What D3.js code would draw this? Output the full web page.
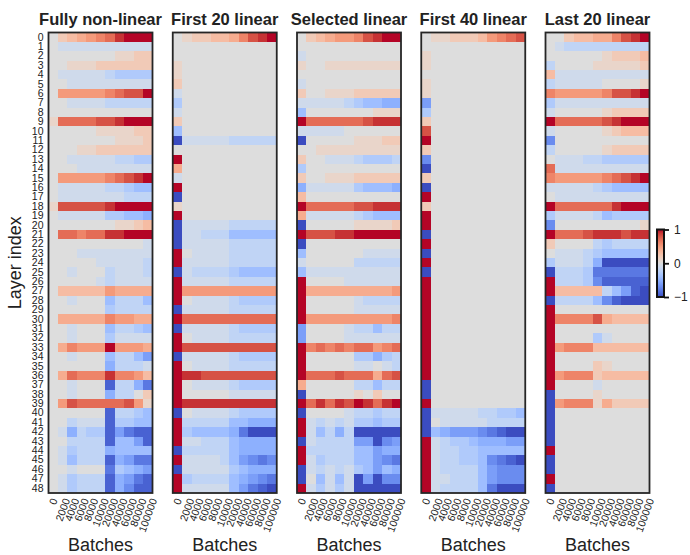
<!DOCTYPE html>
<html>
<head>
<meta charset="utf-8">
<script src="https://cdn.jsdelivr.net/npm/d3@7"></script>
<style>
  body { margin: 0; background: #fff; }
  text { font-family: "Liberation Sans", Arial, sans-serif; fill: #222; }
</style>
</head>
<body>
<div id="chart"></div>
<script>
const titles = ["Fully non-linear", "First 20 linear", "Selected linear", "First 40 linear", "Last 20 linear"];
const batches = ["0", "2000", "4000", "6000", "8000", "10000", "20000", "40000", "60000", "80000", "100000"];
const layers = d3.range(49);

// one string per layer, one char per batch column
// t = -1, i..a = -0.9..-0.1, 0 = 0, 1..9 = 0.1..0.9, T = 1
const fullyNonLinear = [
  "02345679TTT", "0aaaaaaaaaa", "00000001122", "00111222222", "0aaaaabcccc",
  "00aaaaaaaaa", "0555556788T", "00aaaabbbbb", "00000000000", "17777889TTT",
  "00000111122", "00000001112", "00011222222", "00aaaaabbcc", "000aaaaaaaa",
  "0555556789T", "0aaaaabbcdd", "0aaaaaaabbb", "1888889TTTT", "0aaaaaccdde",
  "00000001123", "07767799TTT", "0000000000a", "000aaaaaaaa", "00000aaaaab",
  "00a000baaab", "00000abaaaa", "03333354444", "00a000dbbbd", "000000cbbbb",
  "04444465544", "00a000dbbcd", "00a000caaaa", "046555T5554", "00a000dbbdf",
  "000000ebbba", "04766696653", "00a000ibbeh", "00a000ebb02", "05877777851",
  "000000ibbcd", "00baaaiccdd", "0aebccifhii", "00bbbbiddfi", "0acbbbedddd",
  "0adbbbiefhh", "00a000hcdef", "0acbbbiefhi", "0acbbbiegii"
];
const first20Linear = [
  "0122334689T", "00000000000", "00000000000", "10000000000", "10000000000",
  "20000000000", "a0000000000", "c0000000000", "a0000000000", "20000000000",
  "d0000000000", "taaaaabbbbb", "00000000000", "T0000000000", "40000000000",
  "a0000000000", "T0000000000", "t0000000000", "10000000000", "T0000000000",
  "taaaaabbbbb", "taabbbddddd", "taaaaabbbbb", "T0aaaabbbbb", "Taaaaabbbbb",
  "tabbbbcdddd", "Taaaaabbbbb", "T5555555555", "T0aaaabcccc", "taaaaabbbbb",
  "T7777777777", "taaaaabcccc", "T0aaaabbbbb", "T8888888888", "taaaaabcccc",
  "T0aaaabbbbb", "T9988888888", "T0aaaabcccc", "T00000aaaaa", "T9999999999",
  "t0aaaabcccc", "Tbbbbbddeee", "Tcddddehttt", "Taabbbdeeee", "tbbbbbdeeee",
  "Taaaabdfghg", "taaaaacdeee", "Tcbbbbdefgh", "Taaaaadfhit"
];
const selectedLinear = [
  "023455689TT", "00000000000", "a0000000000", "10011111111", "00000000000",
  "a0000000000", "20011122222", "aaaaabcddee", "d0000000111", "T7777778999",
  "aaaaa000000", "t0000011122", "00111111111", "200aaabcccb", "c0000000000",
  "20011122222", "eaaaaacddde", "30000000000", "T7777788999", "4aaaaabcddd",
  "t0000011112", "T88899TTTTT", "t0000000000", "d000000aaaa", "a00000bbbbb",
  "daaaaaaaaaa", "T0000aaaaaa", "T4444444445", "T00000abbbb", "T00000aaaaa",
  "T5555555556", "f0000abbdbb", "f0000aaaaaa", "T6767677567", "T00000ccecb",
  "T00000aa0ab", "T7778777478", "400000bbdbb", "t0000010200", "T79798T979T",
  "t0000abbcbb", "Tababaccdcc", "Tadbebttttt", "tabbbbfftgf", "Tbbbbbddfee",
  "Tacbbbddfgh", "tababacdfde", "t0dadatftgg", "Tacacattttt"
];
const first40Linear = [
  "01122235678", "00000000000", "10000000000", "10000000000", "00000000000",
  "10000000000", "10000000000", "f0000000000", "c0000000000", "20000000000",
  "80000000000", "T0000000000", "20000000000", "g0000000000", "t0000000000",
  "20000000000", "t0000000000", "T0000000000", "20000000000", "T0000000000",
  "T0000000000", "t0000000000", "T0000000000", "t0000000000", "T0000000000",
  "t0000000000", "T0000000000", "T0000000000", "T0000000000", "T0000000000",
  "T0000000000", "T0000000000", "T0000000000", "T0000000000", "T0000000000",
  "T0000000000", "T0000000000", "t0000000000", "t0000000000", "T0000000000",
  "taaaaabbccd", "t0aaaaabbbb", "tdefffghitt", "Tabccdeeeff", "Tabbccddddd",
  "Tabbccdghit", "Tabbbbdfggg", "Taabbbdfggg", "Tabbbbdhttt"
];
const last20Linear = [
  "0023344689T", "0abbbbbbbbb", "00000012223", "b0000111112", "3aaaaaaaaaa",
  "baaaaa00001", "6555556889T", "caaaaaaaaaa", "a0000012222", "T7777789TTT",
  "a0000012333", "g0000000000", "b0000012222", "0aaabbccccc", "7aaaaaaaaaa",
  "6555556789T", "aaaaabcdddd", "0aaaaaaaaaa", "T7777779TTT", "caaaabdcccc",
  "g0000000001", "T7778999899", "20000bcbbbb", "0aaabcddddd", "caaabettttt",
  "tbbbchhhhhh", "Tbbbcgiiiii", "T33333bdfit", "tbbbbdgittt", "T0000000000",
  "T6666843333", "T0000000000", "T0000ca0000", "T5666333333", "T0000000000",
  "T0000210000", "T5666233333", "T0000a00000", "t0000100000", "t5666142222",
  "t0000000000", "t0000000000", "t0000000000", "t0000000000", "T0000000000",
  "t0000000000", "t0000000000", "T0000000000", "t0000000000"
];
const panels = [fullyNonLinear, first20Linear, selectedLinear, first40Linear, last20Linear];

const codeValue = c => {
  if (c === "T") return 1;
  if (c === "t") return -1;
  if (c >= "0" && c <= "9") return +c / 10;
  return -("abcdefghi".indexOf(c) + 1) / 10;
};

// matplotlib coolwarm
const coolwarm = ["#3b4cc0", "#4d68d7", "#6282ea", "#779af7", "#8db0fe", "#a3c2ff", "#b8d0f9", "#ccd9ee",
  "#dddddd", "#ecd3c5", "#f5c4ad", "#f7b194", "#f49a7b", "#ec7f63", "#de604d", "#cb3e38", "#b40426"];
const color = d3.scaleLinear()
  .domain(d3.range(17).map(i => -1 + i * 0.125))
  .range(coolwarm)
  .clamp(true);

const width = 690;
const height = 555;
const plot = { left: 48.5, right: 649.5, top: 32.5, bottom: 493 };

const svg = d3.select("#chart")
  .append("svg")
  .attr("width", width)
  .attr("height", height);

const panelX = d3.scaleBand().domain(titles).range([plot.left, plot.right]).paddingInner(0.163);
const y = d3.scaleBand().domain(layers).range([plot.top, plot.bottom]);
const x = d3.scaleBand().domain(batches).range([0, panelX.bandwidth()]);

panels.forEach((rows, p) => {
  const g = svg.append("g")
    .attr("transform", `translate(${panelX(titles[p])}, 0)`);

  const cells = [];
  rows.forEach((row, r) => {
    row.split("").forEach((c, k) => cells.push({ layer: layers[r], batch: batches[k], value: codeValue(c) }));
  });

  g.selectAll("rect.cell")
    .data(cells)
    .enter().append("rect")
    .attr("class", "cell")
    .attr("x", d => x(d.batch))
    .attr("y", d => y(d.layer))
    .attr("width", x.bandwidth())
    .attr("height", y.bandwidth())
    .attr("fill", d => color(d.value))
    .attr("shape-rendering", "crispEdges");

  g.append("rect")
    .attr("x", 0)
    .attr("y", plot.top)
    .attr("width", panelX.bandwidth())
    .attr("height", plot.bottom - plot.top)
    .attr("fill", "none")
    .attr("stroke", "#262626")
    .attr("stroke-width", 1.8);

  g.append("text")
    .attr("x", panelX.bandwidth() / 2)
    .attr("y", 25)
    .attr("text-anchor", "middle")
    .attr("font-size", "16.5px")
    .attr("font-weight", "bold")
    .text(titles[p]);

  // rotated batch labels, box centred under each column
  batches.forEach(b => {
    const t = g.append("text")
      .attr("font-size", "10.5px")
      .attr("text-anchor", "middle")
      .attr("dy", "0.35em")
      .text(b);
    const len = t.node().getComputedTextLength();
    const boxH = len * Math.sin(70 * Math.PI / 180) + 10.5 * Math.cos(70 * Math.PI / 180);
    t.attr("transform", `translate(${x(b) + x.bandwidth() / 2}, ${plot.bottom + 4 + boxH / 2}) rotate(-70)`);
  });

  g.append("text")
    .attr("x", panelX.bandwidth() / 2)
    .attr("y", 551)
    .attr("text-anchor", "middle")
    .attr("font-size", "18px")
    .text("Batches");

  if (p === 0) {
    const yAxis = d3.axisLeft(y).tickSize(0).tickPadding(5);
    g.append("g")
      .attr("class", "axis y-axis")
      .call(yAxis)
      .call(a => a.select(".domain").remove())
      .selectAll("text")
      .attr("font-size", "10.5px")
      .attr("font-family", "Liberation Sans, Arial, sans-serif")
      .attr("fill", "#222");
  }
});

svg.append("text")
  .attr("transform", `translate(21, ${(plot.top + plot.bottom) / 2}) rotate(-90)`)
  .attr("text-anchor", "middle")
  .attr("font-size", "18px")
  .text("Layer index");

// colour bar
const cb = { x: 657, y: 229.5, w: 7, h: 67.5 };
const grad = svg.append("defs").append("linearGradient")
  .attr("id", "cw")
  .attr("x1", 0).attr("y1", 1).attr("x2", 0).attr("y2", 0);
grad.selectAll("stop")
  .data(coolwarm)
  .enter().append("stop")
  .attr("offset", (d, i) => i / (coolwarm.length - 1))
  .attr("stop-color", d => d);

svg.append("rect")
  .attr("x", cb.x).attr("y", cb.y)
  .attr("width", cb.w).attr("height", cb.h)
  .attr("fill", "url(#cw)")
  .attr("stroke", "#111")
  .attr("stroke-width", 2);

const cScale = d3.scaleLinear([-1, 1], [cb.y + cb.h, cb.y]);
svg.append("g")
  .attr("class", "axis c-axis")
  .attr("transform", `translate(${cb.x + cb.w}, 0)`)
  .call(d3.axisRight(cScale).tickValues([-1, 0, 1]).tickSize(5).tickPadding(5)
    .tickFormat(d => d < 0 ? "\u2212" + Math.abs(d) : d))
  .call(a => a.select(".domain").remove())
  .call(a => a.selectAll("line").attr("stroke", "#111").attr("stroke-width", 1.8))
  .selectAll("text")
  .attr("font-size", "12px")
  .attr("font-family", "Liberation Sans, Arial, sans-serif")
  .attr("fill", "#222");
</script>
</body>
</html>
